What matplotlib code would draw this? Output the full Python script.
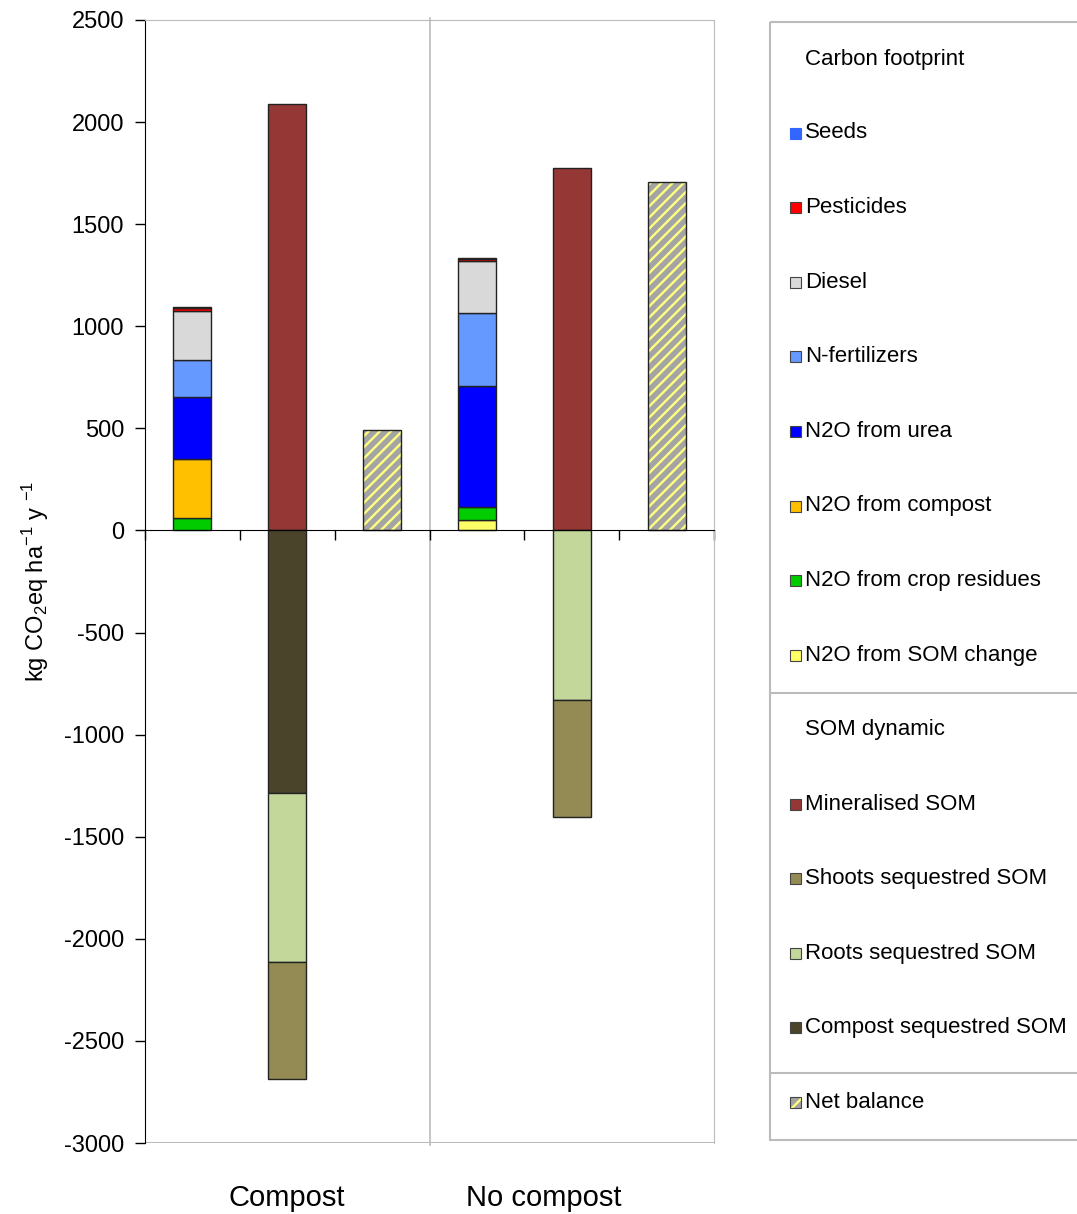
import matplotlib.pyplot as plt
from matplotlib.patches import Rectangle
import numpy as np

plt.rcParams['font.family'] = ['Liberation Sans', 'DejaVu Sans']
plt.rcParams['mathtext.fontset'] = 'custom'
plt.rcParams['mathtext.rm'] = 'Liberation Sans'
plt.rcParams['axes.unicode_minus'] = False
plt.rcParams['hatch.linewidth'] = 1.7

# positions: 0 compost footprint, 1 compost SOM, 2 compost net,
#            3 no compost footprint, 4 no compost SOM, 5 no compost net
groups = ["Compost", "No compost"]

# carbon footprint stacks (compost, no compost), bottom to top
fp_names = ["N2O from SOM change", "N2O from crop residues", "N2O from compost",
            "N2O from urea", "N-fertilizers", "Diesel", "Pesticides", "Seeds"]
fp_colors = ["#ffff66", "#00cc00", "#ffc000", "#0000ff", "#6699ff", "#d9d9d9", "#ff0000", "#3366ff"]
fp_compost = [0, 62, 286, 305, 184, 240, 13, 5]
fp_nocompost = [50, 66, 0, 591, 359, 253, 11, 5]

# SOM dynamic
mineralised = [2091, 1775]
compost_seq = [-1288, 0]
roots_seq = [-827, -828]
shoots_seq = [-574, -573]

net_balance = [490, 1709]

fig = plt.figure(figsize=(10.77, 12.14), dpi=100)
ax = fig.add_axes([145/1077, 1 - 1143/1214, (714-145)/1077, (1143-20)/1214])

w = 0.4
edge = "#222222"
lw = 1.0

# footprint bars
for xpos, vals in [(0.5, fp_compost), (3.5, fp_nocompost)]:
    bottom = 0
    for v, c in zip(vals, fp_colors):
        if v > 0:
            ax.bar(xpos, v, w, bottom=bottom, color=c, edgecolor=edge, linewidth=lw, zorder=3)
        bottom += v

# SOM dynamic bars
for i, xpos in enumerate([1.5, 4.5]):
    ax.bar(xpos, mineralised[i], w, color="#953735", edgecolor=edge, linewidth=lw, zorder=3)
    bottom = 0
    for v, c in [(compost_seq[i], "#4a452a"), (roots_seq[i], "#c4d79b"), (shoots_seq[i], "#948a54")]:
        if v != 0:
            ax.bar(xpos, v, w, bottom=bottom, color=c, edgecolor=edge, linewidth=lw, zorder=3)
        bottom += v

# net balance
for i, xpos in enumerate([2.5, 5.5]):
    ax.bar(xpos, net_balance[i], w, color="#a4a4a4", edgecolor="#ffff80", hatch="///",
           linewidth=0, zorder=3)
    ax.bar(xpos, net_balance[i], w, color="none", edgecolor=edge, linewidth=lw, zorder=4)

ax.set_xlim(0, 6)
ax.set_ylim(-3000, 2500)
ax.set_yticks(np.arange(-3000, 2501, 500))
ax.tick_params(axis='y', direction='out', length=7, labelsize=17, width=1, pad=8)
ax.set_xticks(np.arange(0, 7, 1))
ax.tick_params(axis='x', direction='out', length=7, labelbottom=False, width=1)
ax.spines['bottom'].set_position(('data', 0))
ax.spines['bottom'].set_zorder(5)
ax.spines['left'].set_color('black')
for s in ['top', 'right']:
    ax.spines[s].set_color('#bbbbbb')
# gray frame bottom and group divider
ax.axhline(-3000, color='#bbbbbb', lw=1.5, zorder=1)
ax.axvline(3, ymin=-0.002, ymax=1.002, color='#bbbbbb', lw=1.2, zorder=1, clip_on=False)

ax.set_ylabel(r'kg CO$_2$eq ha$^{-1}$ y $^{-1}$', fontsize=17, labelpad=9)

for g, xc in zip(groups, [1.5, 4.2]):
    ax.text(xc, -3270, g, ha='center', va='center', fontsize=21)

# legend panel
lax = fig.add_axes([0, 0, 1, 1])
lax.set_xlim(0, 1077)
lax.set_ylim(1214, 0)
lax.axis('off')
lax.add_patch(Rectangle((770, 22), 330, 1118, fill=False, edgecolor='#bbbbbb', lw=1.5))
lax.plot([770, 1077], [693, 693], color='#bbbbbb', lw=1.5)
lax.plot([770, 1077], [1073, 1073], color='#bbbbbb', lw=1.5)

entries = [("Carbon footprint", None, 59)]
fp_top_first = list(zip(fp_names, fp_colors))[::-1]
for k, (n, c) in enumerate(fp_top_first):
    entries.append((n, c, 133 + k * 74.6))
entries.append(("SOM dynamic", None, 729))
som_entries = [("Mineralised SOM", "#953735"), ("Shoots sequestred SOM", "#948a54"),
               ("Roots sequestred SOM", "#c4d79b"), ("Compost sequestred SOM", "#4a452a")]
for k, (n, c) in enumerate(som_entries):
    entries.append((n, c, 804 + k * 74.6))

for n, c, yc in entries:
    if c is not None:
        ec = c if n == "Seeds" else '#444444'
        lax.add_patch(Rectangle((790, yc - 5.5), 11, 11, facecolor=c, edgecolor=ec, lw=0.8))
    lax.text(805, yc, n, ha='left', va='center', fontsize=16)

lax.add_patch(Rectangle((790, 1102 - 5.5), 11, 11, facecolor='#a4a4a4', edgecolor='#ffff80',
                        hatch='//', lw=0))
lax.add_patch(Rectangle((790, 1102 - 5.5), 11, 11, fill=False, edgecolor='#444444', lw=0.8))
lax.text(805, 1102, "Net balance", ha='left', va='center', fontsize=16)

fig.savefig("out.png", dpi=100)
